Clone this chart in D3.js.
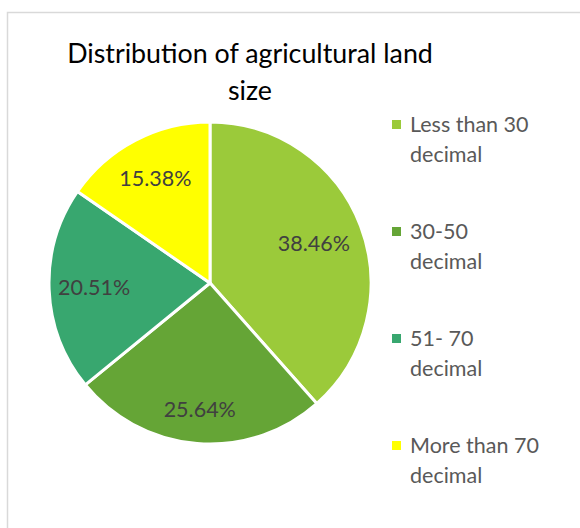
<!DOCTYPE html>
<html>
<head>
<meta charset="utf-8">
<script src="https://cdn.jsdelivr.net/npm/d3@7"></script>
<style>
  body { margin: 0; background: #fff; }
  text { font-family: Lato, "Open Sans", sans-serif; }
</style>
</head>
<body>
<script>
const categories = ["Less than 30 decimal", "30-50 decimal", "51- 70 decimal", "More than 70 decimal"];
const legendLines = [["Less than 30", "decimal"], ["30-50", "decimal"], ["51- 70", "decimal"], ["More than 70", "decimal"]];
const values = [38.46, 25.64, 20.51, 15.38];
const colors = ["#9BCA3A", "#65A536", "#38A76F", "#FFFF00"];
const titleLines = ["Distribution of agricultural land", "size"];

const width = 580, height = 528;
const cx = 210, cy = 283, radius = 161;
// how far out each data label sits (share of the radius), as Excel placed them
const labelPos = [0.69, 0.79, 0.72, 0.73];

const svg = d3.select("body").append("svg")
    .attr("width", width)
    .attr("height", height);

// chart frame, running off the right and bottom
svg.append("rect")
    .attr("x", 7.5).attr("y", 12.5)
    .attr("width", 700).attr("height", 700)
    .attr("fill", "none")
    .attr("stroke", "#d9d9d9")
    .attr("stroke-width", 1.5);

svg.append("text")
    .attr("text-anchor", "middle")
    .attr("font-size", 26.8)
    .attr("fill", "#000")
    .selectAll("tspan")
    .data(titleLines)
    .enter()
    .append("tspan")
    .attr("x", 250)
    .attr("y", (d, i) => 63 + i * 37)
    .text(d => d);

const pie = d3.pie().sort(null).value(d => d);
const arc = d3.arc().innerRadius(0).outerRadius(radius);

const g = svg.append("g").attr("transform", `translate(${cx},${cy})`);
const arcs = pie(values);

g.selectAll("path")
    .data(arcs)
    .enter()
    .append("path")
    .attr("d", arc)
    .attr("fill", (d, i) => colors[i])
    .attr("stroke", "#fff")
    .attr("stroke-width", 3)
    .attr("stroke-linejoin", "round");

g.selectAll("text.pct")
    .data(arcs)
    .enter()
    .append("text")
    .attr("class", "pct")
    .attr("transform", (d, i) => {
        const r = radius * labelPos[i];
        return `translate(${d3.arc().innerRadius(r).outerRadius(r).centroid(d)})`;
    })
    .attr("text-anchor", "middle")
    .attr("dy", "0.35em")
    .attr("font-size", 21.5)
    .attr("fill", "#404040")
    .text(d => d.data.toFixed(2) + "%");

const legend = svg.append("g");
const item = legend.selectAll("g")
    .data(categories)
    .enter()
    .append("g")
    .attr("transform", (d, i) => `translate(392,${132 + i * 107})`);

item.append("rect")
    .attr("x", 0).attr("y", -12)
    .attr("width", 9).attr("height", 9)
    .attr("fill", (d, i) => colors[i]);

item.append("text")
    .attr("font-size", 21.5)
    .attr("fill", "#595959")
    .selectAll("tspan")
    .data((d, i) => legendLines[i])
    .enter()
    .append("tspan")
    .attr("x", 18)
    .attr("y", (d, i) => i * 30)
    .text(d => d);
</script>
</body>
</html>
